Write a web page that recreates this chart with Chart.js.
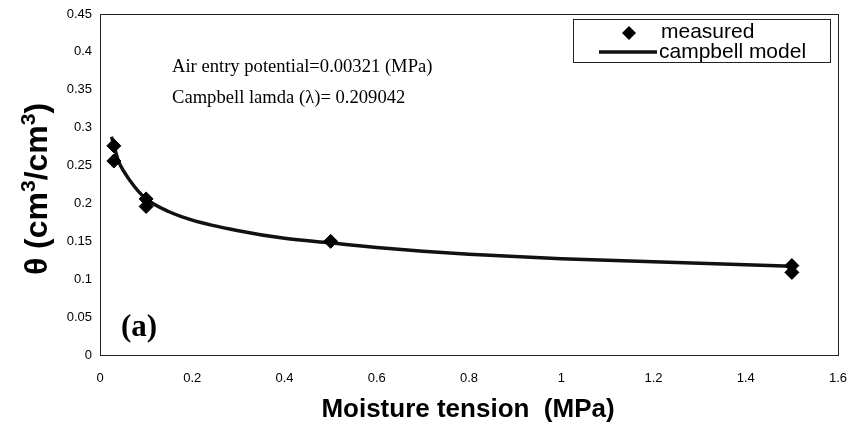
<!DOCTYPE html>
<html>
<head>
<meta charset="utf-8">
<script src="https://cdn.jsdelivr.net/npm/chart.js@4.4.1/dist/chart.umd.min.js"></script>
<style>
  html, body { margin: 0; padding: 0; background: #fff; }
  #wrap { width: 850px; height: 436px; position: relative; }
</style>
</head>
<body>
<div id="wrap"><canvas id="mycanvas" width="850" height="436"></canvas></div>
<script>
// measured points (Moisture tension MPa, theta)
var measuredX = [0.03, 0.03, 0.1, 0.1, 0.5, 1.5, 1.5];
var measuredY = [0.276, 0.256, 0.206, 0.196, 0.150, 0.118, 0.109];

// campbell model curve
var modelX = [0.025, 0.04, 0.05, 0.075, 0.1, 0.15, 0.2, 0.3, 0.4, 0.5, 0.6, 0.7, 0.8, 0.9, 1.0, 1.1, 1.2, 1.3, 1.4, 1.5];
var modelY = [0.288, 0.256, 0.244, 0.222, 0.206, 0.189, 0.178, 0.164, 0.154, 0.148, 0.142, 0.137, 0.133, 0.130, 0.127, 0.125, 0.123, 0.121, 0.119, 0.117];

var xTicks = [0, 0.2, 0.4, 0.6, 0.8, 1, 1.2, 1.4, 1.6];
var yTicks = [0, 0.05, 0.1, 0.15, 0.2, 0.25, 0.3, 0.35, 0.4, 0.45];

var labels = ["measured", "campbell model"];
var notes = ["Air entry potential=0.00321 (MPa)", "Campbell lamda (\u03bb)= 0.209042"];

function pts(xs, ys) {
	var out = [];
	for (var i in xs) {
		out.push({x: xs[i], y: ys[i]});
	}
	return out;
}

// y title with real superscripts, drawn left to right then rotated
function yTitle(c, cx, cy) {
	var big = "bold 32px 'Liberation Sans', Arial, sans-serif";
	var sup = "bold 21px 'Liberation Sans', Arial, sans-serif";
	var parts = [["\u03b8 (cm", big, 0], ["3", sup, -12], ["/cm", big, 0], ["3", sup, -12], [")", big, 0]];
	var w = 0;
	for (var i in parts) {
		c.font = parts[i][1];
		w += c.measureText(parts[i][0]).width;
	}
	c.save();
	c.translate(cx, cy);
	c.rotate(-Math.PI / 2);
	c.textAlign = "left";
	c.textBaseline = "alphabetic";
	var x = -w / 2;
	for (var j in parts) {
		c.font = parts[j][1];
		c.fillText(parts[j][0], x, 12 + parts[j][2]);
		x += c.measureText(parts[j][0]).width;
	}
	c.restore();
}

var extras = {
	id: "extras",
	afterDraw: function(chart) {
		var c = chart.ctx;
		var a = chart.chartArea;
		c.save();
		// frame
		c.strokeStyle = "#222";
		c.lineWidth = 1;
		c.strokeRect(a.left + 0.5, a.top + 0.5, a.right - a.left, a.bottom - a.top);

		// axis titles
		c.fillStyle = "#000";
		c.font = "bold 26px 'Liberation Sans', Arial, sans-serif";
		c.textAlign = "center";
		c.textBaseline = "middle";
		c.fillText("Moisture tension  (MPa)", 468, 410);
		yTitle(c, 35, 189);

		// notes
		c.font = "18.6px 'Liberation Serif', 'Times New Roman', serif";
		c.textAlign = "left";
		c.textBaseline = "middle";
		c.fillText(notes[0], 172, 67);
		c.fillText(notes[1], 172, 98);
		c.font = "bold 31px 'Liberation Serif', 'Times New Roman', serif";
		c.fillText("(a)", 121, 328);

		// legend
		c.fillStyle = "#fff";
		c.fillRect(573, 19, 257, 43);
		c.strokeStyle = "#222";
		c.strokeRect(573.5, 19.5, 257, 43);
		c.fillStyle = "#000";
		c.beginPath();
		c.moveTo(629, 26);
		c.lineTo(636, 33);
		c.lineTo(629, 40);
		c.lineTo(622, 33);
		c.closePath();
		c.fill();
		c.strokeStyle = "#111";
		c.lineWidth = 3.5;
		c.beginPath();
		c.moveTo(599, 52);
		c.lineTo(657, 52);
		c.stroke();
		c.font = "21px 'Liberation Sans', Arial, sans-serif";
		c.fillText(labels[0], 661, 32);
		c.fillText(labels[1], 659, 52);
		c.restore();
	}
};

var ctx = document.getElementById("mycanvas");

var chart = new Chart(ctx, {
	type: "scatter",
	data: {
		datasets: [
			{
				label: labels[1],
				data: pts(modelX, modelY),
				showLine: true,
				borderColor: "#111",
				borderWidth: 3.5,
				pointRadius: 0,
				cubicInterpolationMode: "monotone",
				order: 2
			},
			{
				label: labels[0],
				data: pts(measuredX, measuredY),
				pointStyle: "rectRot",
				pointRadius: 7,
				backgroundColor: "#000",
				borderColor: "#000",
				showLine: false,
				order: 1
			}
		]
	},
	options: {
		responsive: false,
		animation: false,
		layout: { padding: { top: 14, right: 0, left: 0, bottom: 0 } },
		plugins: { legend: { display: false }, tooltip: { enabled: false } },
		scales: {
			x: {
				type: "linear",
				min: 0,
				max: 1.6,
				afterBuildTicks: function(s) { s.ticks = xTicks.map(function(v) { return {value: v}; }); },
				afterFit: function(s) { s.height = 81; s.paddingRight = 12; },
				grid: { display: false, drawTicks: true, tickLength: 4 },
				border: { display: true, color: "#222" },
				ticks: {
					color: "#000",
					padding: 12,
					font: { family: "'Liberation Sans', Arial, sans-serif", size: 13 },
					maxRotation: 0,
					callback: function(v) { return String(v); }
				}
			},
			y: {
				type: "linear",
				min: 0,
				max: 0.45,
				afterBuildTicks: function(s) { s.ticks = yTicks.map(function(v) { return {value: v}; }); },
				afterFit: function(s) { s.width = 100; },
				grid: { display: false, drawTicks: true, tickLength: 4 },
				border: { display: true, color: "#222" },
				ticks: {
					color: "#000",
					padding: 4,
					font: { family: "'Liberation Sans', Arial, sans-serif", size: 13 },
					callback: function(v) { return String(v); }
				}
			}
		}
	},
	plugins: [extras]
});
</script>
</body>
</html>
